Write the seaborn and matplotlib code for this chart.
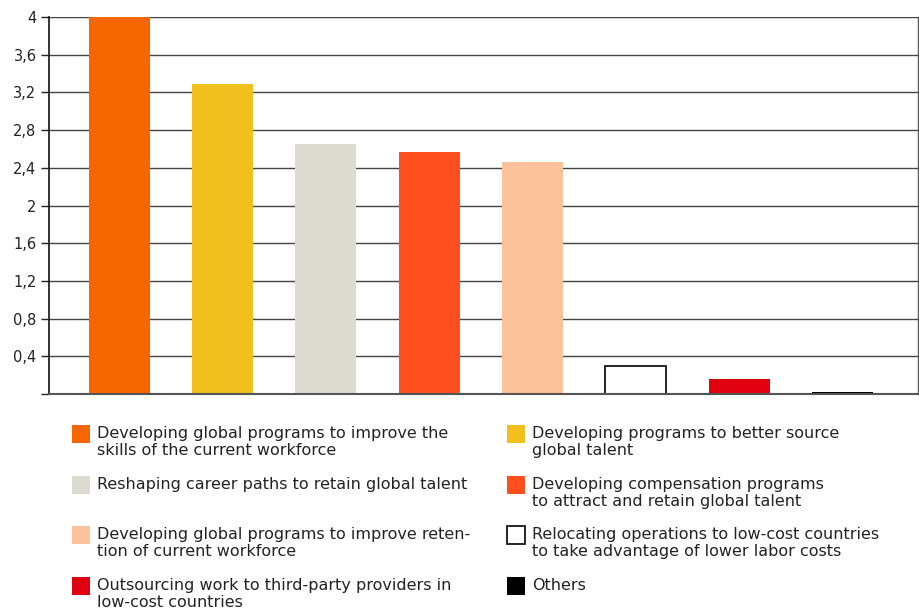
import matplotlib
matplotlib.use("Agg")
import matplotlib.pyplot as plt
from matplotlib.patches import Rectangle
import seaborn as sns
import pandas as pd

categories = [
    "Developing global programs to improve the\nskills of the current workforce",
    "Developing programs to better source\nglobal talent",
    "Reshaping career paths to retain global talent",
    "Developing compensation programs\nto attract and retain global talent",
    "Developing global programs to improve reten-\ntion of current workforce",
    "Relocating operations to low-cost countries\nto take advantage of lower labor costs",
    "Outsourcing work to third-party providers in\nlow-cost countries",
    "Others",
]
values = [4.0, 3.29, 2.65, 2.57, 2.46, 0.30, 0.16, 0.02]
colors = ["#F56600", "#F2C01E", "#DDDAD2", "#FF4F1E", "#F9C29B", "#FFFFFF", "#E0000F", "#000000"]
yticks = [0, 0.4, 0.8, 1.2, 1.6, 2.0, 2.4, 2.8, 3.2, 3.6, 4.0]
ytick_labels = ["", "0,4", "0,8", "1,2", "1,6", "2", "2,4", "2,8", "3,2", "3,6", "4"]

sns.set_theme(style="white")
plt.rcParams["font.family"] = ["DejaVu Sans"]

df = pd.DataFrame({"cat": categories, "val": values})

fig = plt.figure(figsize=(9.19, 6.10), dpi=100)
W, H = 919, 610
ax = fig.add_axes([49 / W, 1 - 394 / H, (918 - 49) / W, (394 - 17) / H])

sns.barplot(data=df, x="cat", y="val", hue="cat", palette=colors, order=categories,
            hue_order=categories, dodge=False, legend=False, width=0.59, ax=ax,
            saturation=1)
for p, c in zip(ax.patches, colors):
    if c.upper() == "#FFFFFF":
        p.set_edgecolor("black")
        p.set_linewidth(1.2)
    else:
        p.set_edgecolor("none")

ax.set_xlim(-0.68, 7.73)
ax.set_ylim(0, 4)
ax.set_yticks(yticks)
ax.set_yticklabels(ytick_labels, fontsize=10.5, color="#222222")
ax.set_xticks([])
ax.set_xlabel("")
ax.set_ylabel("")
ax.yaxis.grid(True, color="#444444", linewidth=1.0)
ax.set_axisbelow(True)
ax.tick_params(axis="y", which="both", left=True, length=6, width=1, color="#222222", pad=3)
ax.spines["left"].set_color("#111111")
ax.spines["left"].set_linewidth(1.2)
ax.spines["right"].set_color("#555555")
ax.spines["right"].set_linewidth(1.0)
ax.spines["bottom"].set_color("#555555")
ax.spines["bottom"].set_linewidth(1.5)
ax.spines["top"].set_visible(False)

# legend, two columns, drawn manually
left_x = [72, 507]
row_tops = [425, 476, 526, 577]
order = [(0, 0), (1, 0), (2, 1), (3, 1), (4, 2), (5, 2), (6, 3), (7, 3)]
for idx, row in order:
    col = idx % 2
    x0 = left_x[col]
    y0 = row_tops[row]
    ec = "black" if colors[idx].upper() == "#FFFFFF" else "none"
    fig.patches.append(Rectangle((x0 / W, 1 - (y0 + 18) / H), 18 / W, 18 / H,
                                 facecolor=colors[idx], edgecolor=ec, linewidth=1.2,
                                 transform=fig.transFigure, figure=fig))
    fig.text((x0 + 25) / W, 1 - (y0 + 1) / H, categories[idx], fontsize=11.5,
             va="top", ha="left", color="#222222", linespacing=1.18)

fig.savefig("out.png", dpi=100)
